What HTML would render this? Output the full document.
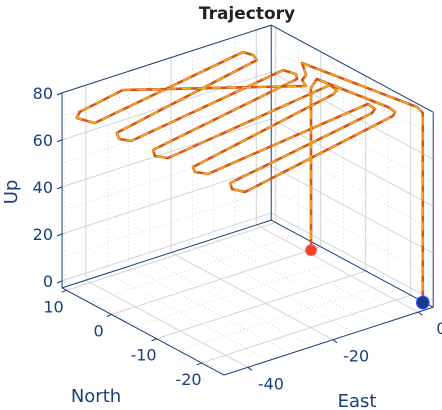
<!DOCTYPE html>
<html><head><meta charset="utf-8">
<style>
html,body{margin:0;padding:0;background:#fff;}
svg{display:block;font-family:"DejaVu Sans","Liberation Sans",sans-serif;}
</style></head>
<body>
<svg id="chart" width="442" height="410" viewBox="0 0 442 410" xmlns="http://www.w3.org/2000/svg">
<text x="247" y="19" text-anchor="middle" font-size="17" font-weight="bold" fill="#222">Trajectory</text>
<g id="grid"></g>
<g id="box"></g>
<g id="traj"></g>
<g id="labels"></g>
<text transform="translate(17,192) rotate(-90)" text-anchor="middle" font-size="18" fill="#1a3f7a">Up</text>
<text x="96" y="402" text-anchor="middle" font-size="18" fill="#1a3f7a">North</text>
<text x="357" y="407" text-anchor="middle" font-size="18" fill="#1a3f7a">East</text>
</svg>
<script>
// ---- data ----
const eastTicks = [-40, -20, 0];
const northTicks = [-20, -10, 0, 10];
const upTicks = [0, 20, 40, 60, 80];
const eastRange = [-45.6, 3.5];
const northRange = [-25, 11];
const upRange = [-3, 80];
const pathEast  = [1.8, 1.8, 2.55, -2.3, -5.0, -6.9, -8.0, -35.9, -48.2, -50.3, -49.0, -8.0, -7.3, -8.1, -48.5, -49.8, -48.6, -7.0, -6.2, -7.4, -47.8, -49.2, -47.8, -4.2, -4.5, -6.1, -46.6, -47.7, -46.3, -3.8, -4.15, -5.7, -45.5, -46.9, -45.8, -3.4, -2.0, -1.7, -4.5, -7.8, -7.8];
const pathNorth = [-24.3, -24.3, -22.3, -1.35, -4.8, -5.7, -7.6, 6.65, 4.6, 3.3, 0.5, 6.4, 4.8, 3.2, -3.9, -5.65, -7.2, -1.6, -3.7, -5.05, -11.3, -13.05, -14.65, -9.35, -11.2, -12.0, -19.05, -20.5, -22.1, -17.4, -19.3, -20.1, -26.3, -28.0, -29.85, -22.6, -21.75, -19.9, -6.7, -8.55, -8.55];
const pathUp    = [-2, 80, 80, 80, 80, 80, 80, 80, 80, 80, 80, 80, 80, 80, 80, 80, 80, 80, 80, 80, 80, 80, 80, 80, 80, 80, 80, 80, 80, 80, 80, 80, 80, 80, 80, 80, 80, 80, 80, 80, 11];

// ---- projection (axis functions) ----
const O = [305.8, 251.6];
const eE = [4.26, -1.38], eN = [-4.5, -2.42], eU = [0, -2.35];
function P(e, n, u) {
  const du = u - upRange[0];
  return [O[0] + e*eE[0] + n*eN[0] + du*eU[0], O[1] + e*eE[1] + n*eN[1] + du*eU[1]];
}
const NS = "http://www.w3.org/2000/svg";
function line(g, a, b, stroke, w, dash) {
  const l = document.createElementNS(NS, "line");
  l.setAttribute("x1", a[0]); l.setAttribute("y1", a[1]);
  l.setAttribute("x2", b[0]); l.setAttribute("y2", b[1]);
  l.setAttribute("stroke", stroke); l.setAttribute("stroke-width", w);
  if (dash) l.setAttribute("stroke-dasharray", dash);
  g.appendChild(l); return l;
}
const [E0, E1] = eastRange, [N0, N1] = northRange, [U0, U1] = upRange;
const grid = document.getElementById("grid");
for (let e = -45; e <= 3; e += 5) {
  let l = line(grid, P(e, N0, U0), P(e, N1, U0), "#bbb", 0.6, "1 3");
  
  l = line(grid, P(e, N1, U0), P(e, N1, U1), "#bbb", 0.6, "1 3");
  
}
for (let n = -25; n <= 11; n += 5) {
  let l = line(grid, P(E0, n, U0), P(E1, n, U0), "#bbb", 0.6, "1 3");
  
  l = line(grid, P(E1, n, U0), P(E1, n, U1), "#bbb", 0.6, "1 3");
  
}
for (let u = 10; u <= 80; u += 20) {
  let l = line(grid, P(E0, N1, u), P(E1, N1, u), "#bbb", 0.6, "1 3");
  
  l = line(grid, P(E1, N1, u), P(E1, N0, u), "#bbb", 0.6, "1 3");
  
}
eastTicks.forEach(e => {
  let l = line(grid, P(e, N0, U0), P(e, N1, U0), "#d4d4d4", 1);
  
  l = line(grid, P(e, N1, U0), P(e, N1, U1), "#d4d4d4", 1);
  
});
northTicks.forEach(n => {
  let l = line(grid, P(E0, n, U0), P(E1, n, U0), "#d4d4d4", 1);
  
  l = line(grid, P(E1, n, U0), P(E1, n, U1), "#d4d4d4", 1);
  
});
upTicks.forEach(u => {
  let l = line(grid, P(E0, N1, u), P(E1, N1, u), "#d4d4d4", 1);
  
  l = line(grid, P(E1, N1, u), P(E1, N0, u), "#d4d4d4", 1);
  
});
const box = document.getElementById("box");
const C = "#173f7a";
[[P(E0,N1,U0),P(E0,N1,U1)],[P(E0,N1,U1),P(E1,N1,U1)],[P(E1,N1,U0),P(E1,N1,U1)],
 [P(E1,N1,U1),P(E1,N0,U1)],[P(E1,N0,U0),P(E1,N0,U1)],
 [P(E0,N1,U0),P(E1,N1,U0)],[P(E1,N1,U0),P(E1,N0,U0)],
 [P(E0,N1,U0),P(E0,N0,U0)],[P(E0,N0,U0),P(E1,N0,U0)]].forEach(s => {
  const l = line(box, s[0], s[1], C, 1);
  
});
const lab = document.getElementById("labels");
function txt(x, y, s, anchor, name) {
  const t = document.createElementNS(NS, "text");
  t.setAttribute("x", x); t.setAttribute("y", y);
  t.setAttribute("text-anchor", anchor); t.setAttribute("font-size", "16");
  t.setAttribute("fill", "#1a3f7a"); t.textContent = s;
  
  
  lab.appendChild(t);
}
upTicks.forEach(u => {
  const p = P(E0, N1, u);
  const l = line(box, p, [p[0]-5, p[1]+2], C, 1);
  
  txt(p[0]-9, p[1]+6, String(u), "end", "up-tick-label");
});
eastTicks.forEach(e => {
  const p = P(e, N0, U0);
  const l = line(box, p, [p[0]+4, p[1]+3], C, 1);
  
  txt(p[0]+23, p[1]+22, String(e), "middle", "east-tick-label");
});
northTicks.forEach(n => {
  const p = P(E0, n, U0);
  const l = line(box, p, [p[0]-5, p[1]+2], C, 1);
  
  txt(p[0]-13, p[1]+22, String(n), "middle", "north-tick-label");
});
const tr = document.getElementById("traj");
const pts = pathEast.map((e, i) => P(e, pathNorth[i], pathUp[i]).map(v => v.toFixed(1)).join(",")).join(" ");
const base = document.createElementNS(NS, "polyline");
base.setAttribute("points", pts); base.setAttribute("fill", "none");
base.setAttribute("stroke", "#d95319"); base.setAttribute("stroke-width", "2.6");
base.setAttribute("stroke-linejoin", "round");


tr.appendChild(base);
const over = document.createElementNS(NS, "polyline");
over.setAttribute("points", pts); over.setAttribute("fill", "none");
over.setAttribute("stroke", "#edb120"); over.setAttribute("stroke-width", "1.5");
over.setAttribute("stroke-dasharray", "9 6");
over.setAttribute("stroke-linejoin", "round");


tr.appendChild(over);
const last = pathEast.length - 1;
const rp = P(pathEast[last], pathNorth[last], pathUp[last]);
const red = document.createElementNS(NS, "circle");
red.setAttribute("cx", rp[0]); red.setAttribute("cy", rp[1]); red.setAttribute("r", "5.5");
red.setAttribute("fill", "#f0402a"); red.setAttribute("stroke", "#ff6a50"); red.setAttribute("stroke-width", "1");


tr.appendChild(red);
const bp = P(pathEast[0], pathNorth[0], pathUp[0]);
const blue = document.createElementNS(NS, "circle");
blue.setAttribute("cx", bp[0]); blue.setAttribute("cy", bp[1] - 3); blue.setAttribute("r", "6");
blue.setAttribute("fill", "#1c3a78"); blue.setAttribute("stroke", "#1f3cff"); blue.setAttribute("stroke-width", "1.5");


tr.appendChild(blue);
</script>
</body></html>
